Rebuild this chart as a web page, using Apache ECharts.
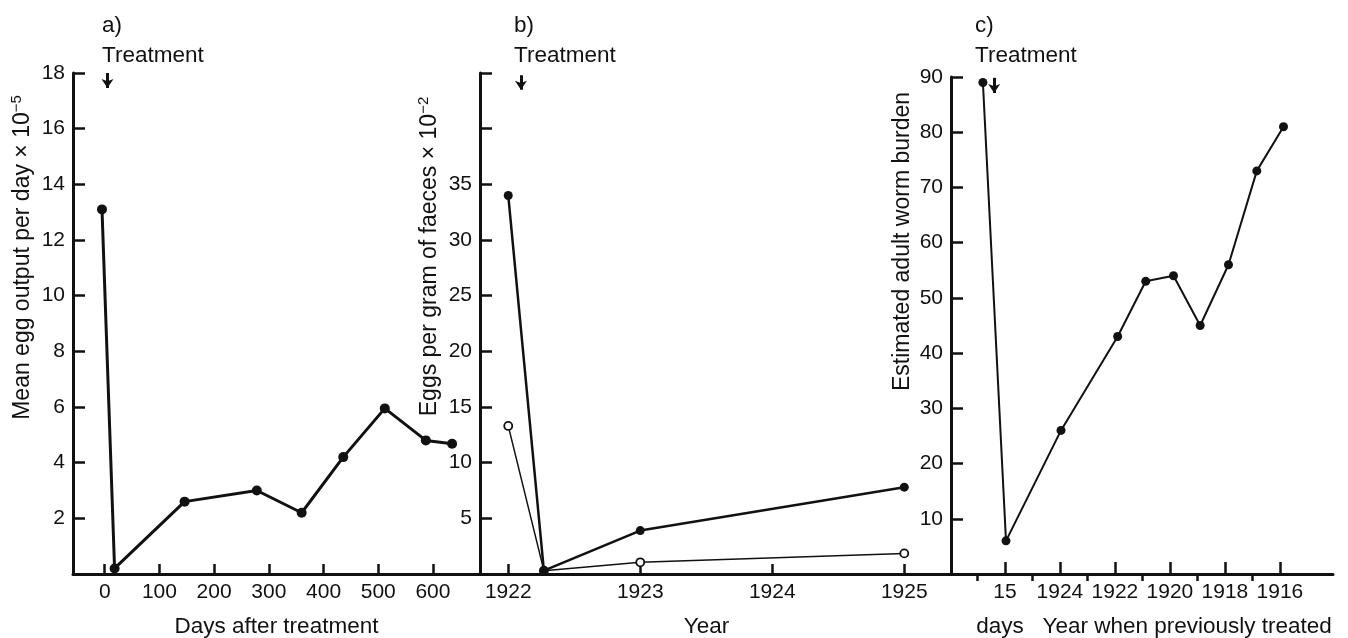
<!DOCTYPE html>
<html>
<head>
<meta charset="utf-8">
<title>Treatment - egg output and worm burden</title>
<script src="https://cdn.jsdelivr.net/npm/echarts@6/dist/echarts.min.js"></script>
<style>
	html, body { margin: 0; padding: 0; background: #fff; }
	#main { width: 1348px; height: 638px; }
</style>
</head>
<body>
<div id="main"></div>
<script>
// a) mean egg output per day after treatment
var daysA = [-5, 18, 146, 278, 360, 436, 512, 587, 635];
var eggA = [13.1, 0.2, 2.6, 3.0, 2.2, 4.2, 5.95, 4.8, 4.68];
var ticksA = [0, 100, 200, 300, 400, 500, 600];

// b) eggs per gram of faeces, two groups
var yearsB = [1922, 1922.27, 1923, 1925];
var solidB = [34, 0.3, 3.9, 7.8];
var openB = [13.3, 0.3, 1.05, 1.85];
var ticksB = [1922, 1923, 1924, 1925];

// c) estimated adult worm burden
var posC = [0.2, 1.04, 3.04, 5.1, 6.12, 7.13, 8.1, 9.13, 10.16, 11.13];
var wormC = [89, 6, 26, 43, 53, 54, 45, 56, 73, 81];
var tickPosC = [1, 3, 5, 7, 9, 11];
var tickLabelC = ['15', '1924', '1922', '1920', '1918', '1916'];
var minorPosC = [0, 2, 4, 6, 8, 10];

var FONT = '"Liberation Sans", Arial, sans-serif';
var INK = '#111';
var NAME_SIZE = 22.5;

function pairs(xs, ys) {
	return xs.map(function (x, i) { return [x, ys[i]]; });
}

function xAxisBase(grid, min, max, ticks) {
	return {
		gridIndex: grid, type: 'value', min: min, max: max,
		splitLine: { show: false },
		axisLine: { onZero: false, lineStyle: { color: INK, width: 3 } },
		axisTick: { inside: true, length: 10, customValues: ticks, lineStyle: { color: INK, width: 2.5 } },
		axisLabel: { customValues: ticks, color: INK, fontSize: 21, fontFamily: FONT, margin: 8 },
		nameLocation: 'middle', nameGap: 41,
		nameTextStyle: { color: INK, fontSize: NAME_SIZE, fontFamily: FONT }
	};
}

function yAxisBase(grid, max, step, hidden, name, shift) {
	return {
		gridIndex: grid, type: 'value', min: 0, max: max, interval: step,
		splitLine: { show: false },
		axisLine: { onZero: false, lineStyle: { color: INK, width: 3 } },
		axisTick: { inside: true, length: 12, lineStyle: { color: INK, width: 2.5 } },
		axisLabel: {
			color: INK, fontSize: 21, fontFamily: FONT, margin: 8,
			formatter: function (v) { return hidden.indexOf(v) >= 0 ? '' : String(v); }
		},
		name: name, nameLocation: 'middle', nameRotate: 90, nameGap: 37,
		nameTextStyle: {
			color: INK, fontSize: 23, fontFamily: FONT, padding: [0, 0, 0, shift],
			rich: { sup: { fontSize: 15, fontFamily: FONT, color: INK, verticalAlign: 'top', lineHeight: 27 } }
		}
	};
}

function arrow(x, y1, y2) {
	return {
		silent: true, symbol: ['none', 'arrow'], symbolSize: 9,
		label: { show: false },
		lineStyle: { type: 'solid', color: INK, width: 3 },
		data: [[{ coord: [x, y1] }, { coord: [x, y2] }]]
	};
}

var xa = xAxisBase(0, -58, 686, ticksA);
xa.name = 'Days after treatment';

var xb = xAxisBase(1, 1921.786, 1925.354, ticksB);
xb.name = 'Year';
xb.nameTextStyle.padding = [0, 18, 0, 0];
xb.axisLabel.formatter = function (v) { return String(v); };

var xc = xAxisBase(2, -0.96, 12.93, tickPosC);
xc.name = 'days   Year when previously treated';
xc.nameTextStyle.padding = [0, 0, 0, 24];
xc.axisTick.length = 12;
xc.axisLabel.formatter = function (v) { return tickLabelC[tickPosC.indexOf(Math.round(v))] || ''; };

var xcMinor = xAxisBase(2, -0.96, 12.93, minorPosC);
xcMinor.axisLine = { show: false };
xcMinor.axisTick.length = 7;
xcMinor.axisLabel = { show: false };

var titleStyle = { color: INK, fontSize: NAME_SIZE, fontWeight: 'normal', fontFamily: FONT, lineHeight: 30 };

var option = {
	animation: false,
	backgroundColor: '#fff',
	title: [
		{ text: 'a)\nTreatment', left: 102, top: 11, padding: 0, textStyle: titleStyle },
		{ text: 'b)\nTreatment', left: 514, top: 11, padding: 0, textStyle: titleStyle },
		{ text: 'c)\nTreatment', left: 975, top: 11, padding: 0, textStyle: titleStyle }
	],
	grid: [
		{ left: 73, top: 73, width: 407, height: 501, containLabel: false, outerBoundsMode: 'none' },
		{ left: 480, top: 73, width: 471, height: 501, containLabel: false, outerBoundsMode: 'none' },
		{ left: 951, top: 77, width: 382, height: 497, containLabel: false, outerBoundsMode: 'none' }
	],
	xAxis: [xa, xb, xc, xcMinor],
	yAxis: [
		yAxisBase(0, 18, 2, [0], 'Mean egg output per day × 10{sup|−5}', 132),
		yAxisBase(1, 45, 5, [0, 40, 45], 'Eggs per gram of faeces × 10{sup|−2}', 134),
		yAxisBase(2, 90, 10, [0], 'Estimated adult worm burden', 168)
	],
	series: [
		{
			type: 'line', xAxisIndex: 0, yAxisIndex: 0,
			data: pairs(daysA, eggA),
			symbol: 'circle', symbolSize: 10,
			lineStyle: { color: INK, width: 3 },
			itemStyle: { color: INK },
			markLine: arrow(5, 18, 17.46)
		},
		{
			type: 'line', xAxisIndex: 1, yAxisIndex: 1,
			data: pairs(yearsB, openB),
			symbol: 'circle', symbolSize: 8,
			lineStyle: { color: INK, width: 1.5 },
			itemStyle: { color: '#fff', borderColor: INK, borderWidth: 1.8 }
		},
		{
			type: 'line', xAxisIndex: 1, yAxisIndex: 1,
			data: pairs(yearsB, solidB),
			symbol: 'circle', symbolSize: 9,
			lineStyle: { color: INK, width: 2.5 },
			itemStyle: { color: INK },
			markLine: arrow(1922.096, 44.8, 43.5)
		},
		{
			type: 'line', xAxisIndex: 2, yAxisIndex: 2,
			data: pairs(posC, wormC),
			symbol: 'circle', symbolSize: 9,
			lineStyle: { color: INK, width: 2 },
			itemStyle: { color: INK },
			markLine: arrow(0.61, 89.85, 87.1)
		}
	]
};

var myChart = echarts.init(document.getElementById('main'));
myChart.setOption(option);
</script>
</body>
</html>
